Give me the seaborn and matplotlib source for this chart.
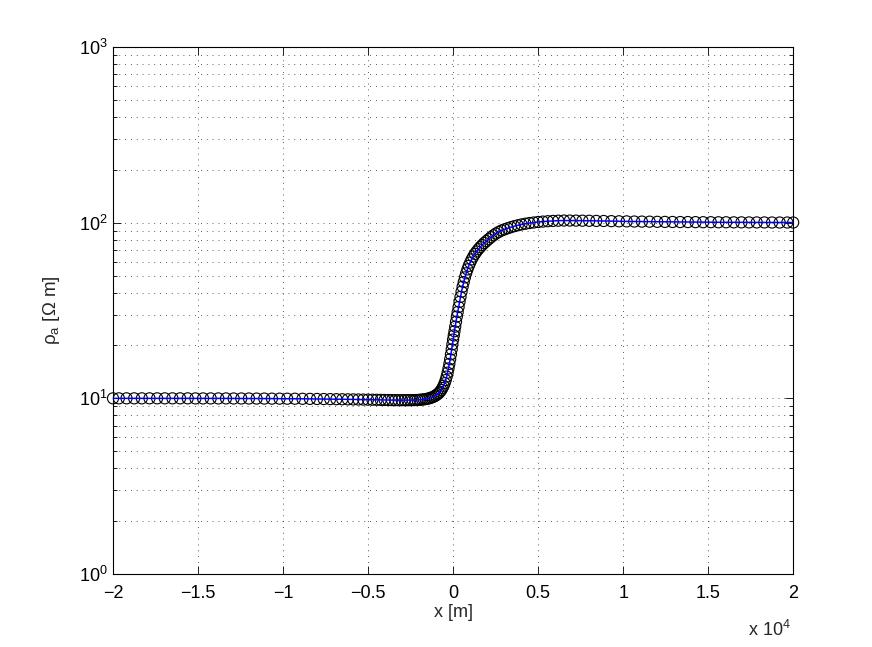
import matplotlib
matplotlib.use("Agg")
import matplotlib.pyplot as plt
import matplotlib.ticker as mticker
import seaborn as sns
import pandas as pd

# station positions [m] and apparent resistivity [Ohm m]
x_left = [
    -20000, -19656, -19206, -18756, -18306, -17856, -17406, -16956, -16506, -16056,
    -15606, -15156, -14706, -14256, -13806, -13356, -12906, -12456, -12006, -11556,
    -11106, -10656, -10206, -9756, -9306, -8856, -8421, -8005, -7607, -7227,
    -6864, -6518, -6187, -5871, -5569, -5281, -5006, -4743, -4492, -4252,
    -4023, -3804, -3595, -3395, -3204, -3022, -2848, -2682, -2523, -2372,
    -2227, -2089, -1957, -1831, -1711, -1596, -1486, -1381, -1281, -1185,
    -1094, -1007, -924, -844, -768, -695, -626, -560, -497, -436,
    -378, -323, -270, -220, -172, -126, -82, -40,
]
rho_left = [
    10.0, 10.0, 10.0, 10.0, 10.0, 10.0, 10.0, 10.0, 10.0, 10.0,
    10.0, 9.99, 9.99, 9.99, 9.99, 9.99, 9.98, 9.98, 9.98, 9.97,
    9.97, 9.96, 9.96, 9.95, 9.95, 9.94, 9.93, 9.92, 9.91, 9.90,
    9.89, 9.88, 9.87, 9.86, 9.85, 9.84, 9.83, 9.82, 9.81, 9.80,
    9.79, 9.78, 9.77, 9.77, 9.76, 9.76, 9.76, 9.76, 9.76, 9.77,
    9.78, 9.79, 9.81, 9.84, 9.87, 9.91, 9.96, 10.02, 10.09, 10.18,
    10.28, 10.4, 10.55, 10.7, 10.9, 11.15, 11.45, 11.8, 12.2, 12.7,
    13.3, 14.0, 14.8, 15.7, 16.7, 17.8, 19.0, 20.3,
]
x_right = [
    0, 40, 82, 126, 172, 220, 270, 323, 378, 436,
    497, 560, 626, 695, 768, 844, 924, 1007, 1094, 1185,
    1281, 1381, 1486, 1596, 1711, 1831, 1957, 2089, 2227, 2372,
    2523, 2682, 2848, 3022, 3204, 3395, 3595, 3804, 4023, 4252,
    4492, 4743, 5006, 5281, 5569, 5871, 6187, 6518, 6864, 7227,
    7607, 8005, 8421, 8856, 9306, 9756, 10206, 10656, 11106, 11556,
    12006, 12456, 12906, 13356, 13806, 14256, 14706, 15156, 15606, 16056,
    16506, 16956, 17406, 17856, 18306, 18756, 19206, 19656, 20000,
]
rho_right = [
    21.6, 22.8, 24.1, 25.6, 27.3, 29.2, 31.0, 33.1, 35.4, 37.8,
    40.5, 43.2, 45.9, 48.8, 51.5, 54.2, 56.8, 59.3, 61.8, 64.1,
    66.4, 68.5, 70.6, 72.6, 74.6, 76.6, 78.5, 80.5, 82.6, 84.7,
    86.7, 88.5, 90.2, 91.6, 92.9, 94.2, 95.5, 96.6, 97.7, 98.6,
    99.5, 100.2, 100.9, 101.4, 101.9, 102.3, 102.6, 102.8, 102.8, 102.7,
    102.6, 102.5, 102.3, 102.2, 102.0, 101.8, 101.7, 101.5, 101.4, 101.3,
    101.1, 101.0, 100.9, 100.8, 100.8, 100.7, 100.6, 100.6, 100.5, 100.5,
    100.4, 100.4, 100.3, 100.3, 100.3, 100.2, 100.2, 100.2, 100.2,
]

x_ticks = [-20000, -15000, -10000, -5000, 0, 5000, 10000, 15000, 20000]
x_ticklabels = ["\u22122", "\u22121.5", "\u22121", "\u22120.5", "0", "0.5", "1", "1.5", "2"]

df = pd.DataFrame({"x": x_left + x_right, "rho": rho_left + rho_right})

sns.set_style("ticks")
plt.rcParams["font.family"] = ["Liberation Sans", "DejaVu Sans"]
plt.rcParams["mathtext.fontset"] = "custom"
plt.rcParams["mathtext.rm"] = "Liberation Sans"
plt.rcParams["mathtext.it"] = "Liberation Sans:italic"

fs = 13

fig = plt.figure(figsize=(8.72, 6.47), dpi=100)
ax = fig.add_axes([0.1296, 0.1128, 0.78, 0.8146])

sns.scatterplot(data=df, x="x", y="rho", marker="o", s=64, facecolors="none",
                edgecolor="black", linewidth=0.8, ax=ax, clip_on=False, zorder=3)
sns.lineplot(data=df, x="x", y="rho", sort=False, estimator=None, color="blue",
             linewidth=1.1, ax=ax, zorder=4)

ax.set_yscale("log")
ax.set_xlim(-20000, 20000)
ax.set_ylim(1, 1000)

ax.set_xticks(x_ticks)
ax.set_xticklabels(x_ticklabels)
ax.xaxis.set_minor_locator(mticker.NullLocator())
ax.yaxis.set_major_locator(mticker.LogLocator(base=10))
ax.yaxis.set_minor_locator(mticker.LogLocator(base=10, subs=range(2, 10)))
ax.yaxis.set_minor_formatter(mticker.NullFormatter())

dots = dict(color="0.15", linestyle=(0, (1, 6)), linewidth=0.6)
ax.grid(True, which="major", axis="both", **dots)
ax.grid(True, which="minor", axis="y", **dots)

ax.tick_params(which="both", direction="in", top=True, right=True,
               labelsize=fs, colors="black", width=0.6)
ax.tick_params(which="major", length=6)
ax.tick_params(which="minor", length=3)
ax.tick_params(axis="x", which="major", pad=8)
ax.tick_params(axis="y", which="major", pad=4)
for sp in ax.spines.values():
    sp.set_visible(True)
    sp.set_linewidth(0.8)
    sp.set_color("black")

ax.set_xlabel("x [m]", fontsize=fs, labelpad=1)
ax.set_ylabel("\u03c1$_\\mathrm{a}$ [\u03a9 m]", fontsize=fs + 0.5, labelpad=12)
ax.text(0.997, -0.088, "x 10$^{4}$", transform=ax.transAxes, ha="right",
        va="top", fontsize=fs)

plt.savefig("out.png", dpi=100)
plt.close()
